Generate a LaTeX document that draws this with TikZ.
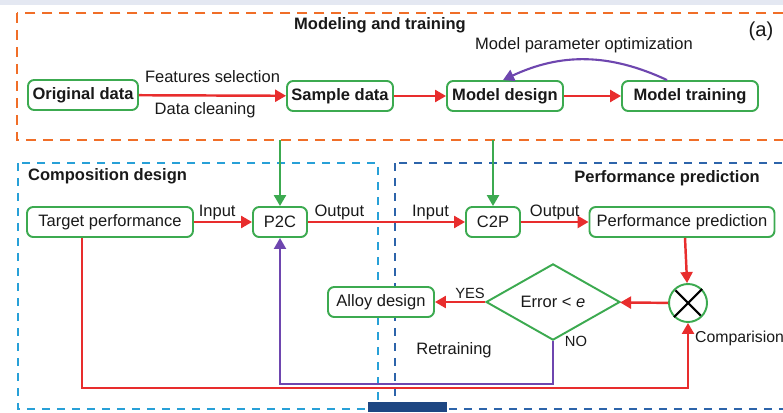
\documentclass[tikz,border=0pt]{standalone}
\usepackage{fontspec}
\setmainfont{Liberation Sans}
\usepackage{tikz}
\usetikzlibrary{arrows.meta,positioning,shapes.geometric}
\definecolor{orangec}{RGB}{240,110,40}
\definecolor{greenc}{RGB}{60,170,80}
\definecolor{redc}{RGB}{232,45,45}
\definecolor{purpc}{RGB}{110,70,175}
\definecolor{lbluec}{RGB}{40,160,215}
\definecolor{dbluec}{RGB}{45,100,170}
\definecolor{navyc}{RGB}{30,70,130}
\definecolor{bandc}{RGB}{228,232,242}
\begin{document}
\begin{tikzpicture}[x=0.02cm, y=-0.02cm, every node/.style={font=\fontsize{9.4}{11}\selectfont, text=black!90},
  box/.style={draw=greenc, fill=white, line width=1.1pt, rounded corners=3.5pt, minimum height=0.6cm, inner sep=2pt},
  bbox/.style={box, font=\fontsize{9.4}{11}\selectfont\bfseries},
  ttl/.style={font=\fontsize{9.4}{11}\selectfont\bfseries},
  redarr/.style={draw=redc, line width=1.4pt, -{Triangle[length=2.2mm,width=2.4mm]}},
  purarr/.style={draw=purpc, line width=1.2pt, -{Triangle[length=2.2mm,width=2.4mm]}},
  grnarr/.style={draw=greenc, line width=1.4pt, -{Triangle[length=2.2mm,width=2.4mm]}}]
  \clip (0,0) rectangle (783,412);
  \fill[bandc] (0,0) rectangle (783,5);
  % group frames
  \draw[orangec, line width=1.4pt, dash pattern=on 0.2cm off 0.14cm] (17,13) rectangle (800,140);
  \draw[lbluec, line width=1.1pt, dash pattern=on 0.16cm off 0.14cm] (18,163) rectangle (378,409);
  \draw[dbluec, line width=1.1pt, dash pattern=on 0.16cm off 0.14cm] (395,163) rectangle (800,409);
  \fill[navyc] (368,402) rectangle (447,412);
  \node[ttl] (t1) at (380,25) {Modeling and training};
  \node (tag) at (761,31) {\fontsize{11.5}{13}\selectfont (a)};
  \node[ttl, anchor=west] (t2) at (22,176) {Composition design};
  \node[ttl] (t3) at (667,178) {Performance prediction};
  % modeling row
  \node[bbox, minimum width=2.2cm] (orig) at (83,95) {Original data};
  \node[bbox, minimum width=2.12cm] (sample) at (340,96) {Sample data};
  \node[bbox, minimum width=2.32cm] (mdesign) at (505,96) {Model design};
  \node[bbox, minimum width=2.72cm] (mtrain) at (690,96) {Model training};
  \draw[redarr] (orig) -- (sample) node[pos=0.5, above=3pt] (fs) {Features selection} node[pos=0.45, below=0pt] (dc) {Data cleaning};
  \draw[redarr] (sample) -- (mdesign);
  \draw[redarr] (mdesign) -- (mtrain);
  \draw[purarr] ([xshift=-0.46cm]mtrain.north) to[bend right=25] ([xshift=-0.04cm]mdesign.north);
  \node (mpo) at (584,45) {Model parameter optimization};
  % prediction row
  \node[box, minimum width=3.32cm] (target) at (110,222) {Target performance};
  \node[box, minimum width=1.08cm] (p2c) at (280,222) {P2C};
  \node[box, minimum width=1.08cm] (c2p) at (493,222) {C2P};
  \node[box, minimum width=3.7cm] (perf) at (682,222) {Performance prediction};
  \coordinate (g1) at (280,140); \coordinate (g2) at (493,140);
  \draw[grnarr] (g1) -- (p2c); \draw[grnarr] (g2) -- (c2p);
  \draw[redarr] (target) -- (p2c) node[pos=0.4, above=-3pt] (in1) {Input};
  \draw[redarr] (p2c) -- (c2p) node[pos=0.2, above=-3pt] (out1) {Output} node[pos=0.78, above=-3pt] (in2) {Input};
  \draw[redarr] (c2p) -- (perf) node[pos=0.5, above=-3pt] (out2) {Output};
  % check loop
  \node[draw=greenc, fill=white, line width=1.1pt, circle, minimum size=0.76cm, inner sep=0pt] (comp) at (688,303) {};
  \draw[black, line width=1.2pt, shorten <=1.2pt, shorten >=1.2pt] (comp.45) -- (comp.225) (comp.135) -- (comp.315);
  \node[draw=greenc, fill=white, line width=1.1pt, diamond, minimum width=2.68cm, minimum height=0.88cm, inner sep=0pt] (err) at (553,302) {Error < \textit{e}};
  \node[box, minimum width=2.12cm] (alloy) at (381,302) {Alloy design};
  \draw[redarr] ([xshift=0.06cm]perf.south) -- (comp);
  \draw[redarr] (comp) -- (err);
  \draw[redarr] (err) -- (alloy) node[pos=0.3, above=-2pt, font=\fontsize{8.4}{10}\selectfont] (yes) {YES};
  \draw[purarr] (err.south) -- ++(0,43) -| (p2c.south);
  \node[font=\fontsize{8.4}{10}\selectfont] (no) at (576,341) {NO};
  \node (retr) at (454,350) {Retraining};
  \draw[redarr] ([xshift=-0.56cm]target.south) -- ++(0,150) -| (comp.south);
  \node[anchor=west, inner sep=1pt, font=\fontsize{9}{11}\selectfont] (cmp) at (693,338) {Comparision};
\end{tikzpicture}
\end{document}
